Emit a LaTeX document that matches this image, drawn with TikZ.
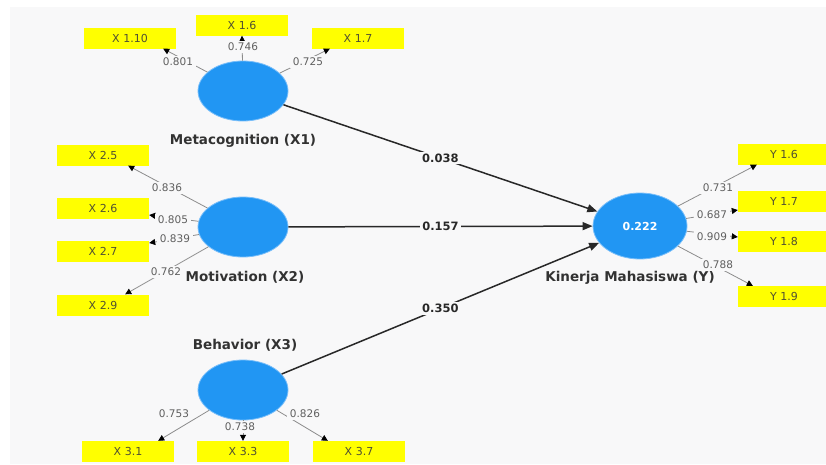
\documentclass[tikz,border=0pt]{standalone}
\usepackage{fontspec}
\setmainfont{DejaVu Sans}
\usetikzlibrary{shapes.geometric,arrows.meta}
\definecolor{bg}{RGB}{248,248,249}
\definecolor{lv}{RGB}{33,150,243}
\definecolor{lvrim}{RGB}{120,190,250}
\definecolor{ind}{RGB}{255,255,0}
\definecolor{indtxt}{RGB}{80,80,50}
\definecolor{numtxt}{RGB}{95,95,95}
\definecolor{lvtxt}{RGB}{50,50,50}
\definecolor{pathc}{RGB}{40,40,40}
\definecolor{loadc}{RGB}{140,140,140}
\begin{document}
\begin{tikzpicture}[x=1pt,y=-1pt,
  lvnode/.style={ellipse, fill=lv, draw=lvrim, line width=0.8pt, minimum width=90pt, minimum height=60pt, inner sep=0pt},
  indbox/.style={rectangle, fill=ind, minimum width=92pt, minimum height=21pt, inner sep=0pt, font=\fontsize{11}{13}\selectfont, text=indtxt},
  lvname/.style={font=\bfseries\fontsize{13.5}{16}\selectfont, text=lvtxt},
  coef/.style={font=\bfseries\fontsize{11.5}{14}\selectfont, text=pathc, fill=bg, inner sep=2pt},
  ldlbl/.style={font=\fontsize{10.5}{12}\selectfont, text=numtxt, fill=bg, inner sep=2.5pt},
  struct/.style={draw=pathc, line width=1.5pt, -{Triangle[length=10pt,width=8pt]}},
  load/.style={draw=loadc, line width=0.8pt, -{Triangle[length=6pt,width=6pt,color=black]}}
]
\fill[white] (0,0) rectangle (826,464);
\fill[bg] (10,7) rectangle (826,464);
\useasboundingbox (0,0) rectangle (826,464);

% latent variables
\node[lvnode] (met) at (243,91) {};
\node[lvnode] (mot) at (243,227) {};
\node[lvnode] (beh) at (243,390) {};
\node[lvnode, minimum width=94pt, minimum height=66pt, text=white, font=\bfseries\fontsize{11}{13}\selectfont] (kin) at (640,226) {0.222};

% indicators
\node[indbox] (x110) at (130,38) {X 1.10};
\node[indbox] (x16) at (242,25) {X 1.6};
\node[indbox] (x17) at (358,38) {X 1.7};
\node[indbox] (x25) at (103,155) {X 2.5};
\node[indbox] (x26) at (103,208.5) {X 2.6};
\node[indbox] (x27) at (103,251.5) {X 2.7};
\node[indbox] (x29) at (103,305) {X 2.9};
\node[indbox] (x31) at (128,451.5) {X 3.1};
\node[indbox] (x33) at (243,451.5) {X 3.3};
\node[indbox] (x37) at (359,451.5) {X 3.7};
\node[indbox] (y16) at (784,154) {Y 1.6};
\node[indbox] (y17) at (784,201.5) {Y 1.7};
\node[indbox] (y18) at (784,241.5) {Y 1.8};
\node[indbox] (y19) at (784,296.5) {Y 1.9};

% names
\node[lvname] (metname) at (243,141) {Metacognition (X1)};
\node[lvname] (motname) at (245,277) {Motivation (X2)};
\node[lvname] (behname) at (245,345) {Behavior (X3)};
\node[lvname] (kinname) at (630,278) {Kinerja Mahasiswa (Y)};

% structural paths
\draw[struct] (met) -- node[coef] (c1) {0.038} (kin);
\draw[struct] (mot) -- node[coef] (c2) {0.157} (kin);
\draw[struct] (beh) -- node[coef] (c3) {0.350} (kin);

% loadings
\draw[load] (met) -- ([xshift=-13pt]x110.south east);
\draw[load] (met) -- (x16.south);
\draw[load] (met) -- ([xshift=18pt]x17.south west);
\draw[load] (mot) -- ([xshift=-21pt]x25.south east);
\draw[load] (mot) -- ([yshift=-6.5pt]x26.east);
\draw[load] (mot) -- ([yshift=8.5pt]x27.east);
\draw[load] (mot) -- ([xshift=-24pt]x29.north east);
\draw[load] (beh) -- ([xshift=-16pt]x31.north east);
\draw[load] (beh) -- (x33.north);
\draw[load] (beh) -- ([xshift=15pt]x37.north west);
\draw[load] (kin) -- ([xshift=19pt]y16.south west);
\draw[load] (kin) -- ([yshift=-8.5pt]y17.west);
\draw[load] (kin) -- ([yshift=4.5pt]y18.west);
\draw[load] (kin) -- ([xshift=15pt]y19.north west);

% loading labels
\node[ldlbl] (l110) at (178,62) {0.801};
\node[ldlbl] (l16) at (243,47) {0.746};
\node[ldlbl] (l17) at (308,62) {0.725};
\node[ldlbl] (l25) at (167,188) {0.836};
\node[ldlbl] (l26) at (173,220) {0.805};
\node[ldlbl] (l27) at (175,239) {0.839};
\node[ldlbl] (l29) at (166,272) {0.762};
\node[ldlbl] (l31) at (174,414) {0.753};
\node[ldlbl] (l33) at (240,427) {0.738};
\node[ldlbl] (l37) at (305,414) {0.826};
\node[ldlbl] (m16) at (718,188) {0.731};
\node[ldlbl] (m17) at (712,215) {0.687};
\node[ldlbl] (m18) at (712,237) {0.909};
\node[ldlbl] (m19) at (718,265) {0.788};
\end{tikzpicture}
\end{document}
